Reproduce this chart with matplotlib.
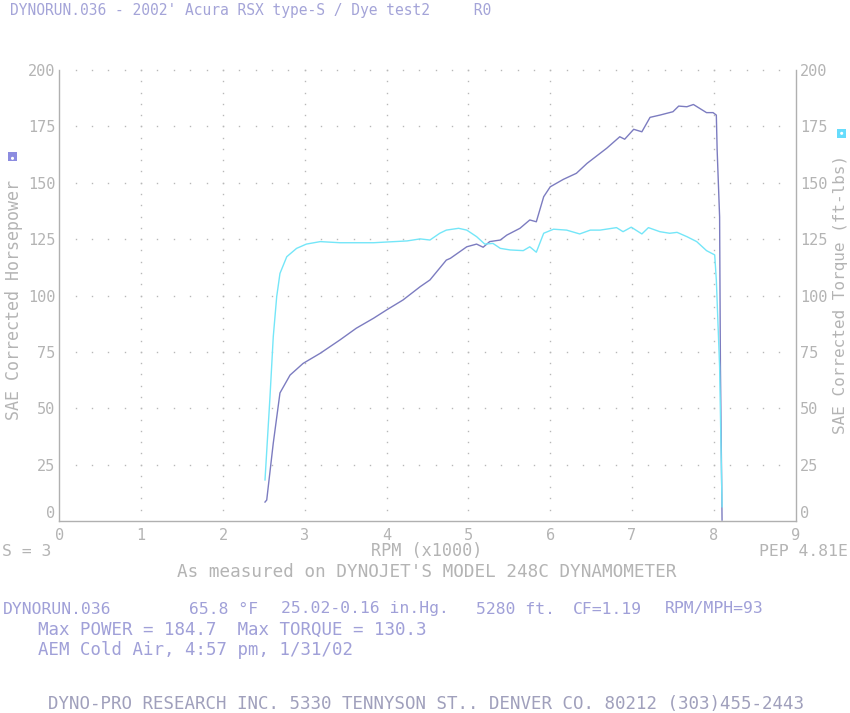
import numpy as np
import matplotlib
matplotlib.use("Agg")
import matplotlib.pyplot as plt
from matplotlib.patches import Rectangle

# ---- data ----
power_rpm = [2.514, 2.535, 2.615, 2.697, 2.82, 2.98, 3.19, 3.43, 3.63, 3.84, 4.00, 4.20, 4.41, 4.53,
             4.73, 4.78, 4.98, 5.10, 5.18, 5.26, 5.39, 5.47, 5.63, 5.75, 5.83, 5.92, 6.00, 6.16,
             6.32, 6.45, 6.69, 6.85, 6.91, 7.02, 7.12, 7.22, 7.34, 7.50, 7.57, 7.67, 7.75, 7.91,
             7.99, 8.03, 8.04, 8.07, 8.08, 8.10]
power_hp = [8.4, 9.3, 34.5, 56.8, 64.7, 69.9, 74.4, 80.3, 85.5, 89.9, 93.6, 98.0, 103.9, 106.9,
            115.7, 116.5, 121.6, 122.8, 121.4, 123.9, 124.6, 126.8, 129.8, 133.5, 132.7, 143.8, 148.2, 151.5,
            154.2, 158.6, 165.3, 170.4, 169.3, 173.7, 172.6, 179.0, 180.0, 181.5, 184.0, 183.7, 184.7, 181.1,
            181.1, 180.0, 164.5, 134.9, 68.4, 0.4]

torque_rpm = [2.514, 2.575, 2.615, 2.657, 2.697, 2.78, 2.90, 3.02, 3.19, 3.43, 3.84, 4.25, 4.41, 4.53,
              4.65, 4.73, 4.88, 4.98, 5.10, 5.20, 5.30, 5.39, 5.51, 5.67, 5.75, 5.83, 5.92, 6.04,
              6.20, 6.36, 6.49, 6.61, 6.81, 6.89, 6.99, 7.12, 7.20, 7.34, 7.46, 7.55, 7.67, 7.79,
              7.91, 8.01, 8.03, 8.07, 8.10]
torque_ftlb = [18.2, 55.1, 81.7, 99.5, 109.8, 117.2, 120.9, 122.8, 123.9, 123.4, 123.4, 124.2, 125.1, 124.6,
               127.6, 129.0, 129.8, 129.0, 126.1, 122.8, 123.1, 120.9, 120.2, 119.9, 121.6, 119.2, 127.6, 129.4,
               129.0, 127.3, 129.0, 129.0, 130.1, 128.3, 130.3, 127.3, 130.1, 128.3, 127.6, 128.0, 126.1, 123.9,
               119.9, 118.0, 106.9, 68.4, 6.3]

x_ticks = [0, 1, 2, 3, 4, 5, 6, 7, 8, 9]
y_ticks = [0, 25, 50, 75, 100, 125, 150, 175, 200]

title = "DYNORUN.036 - 2002' Acura RSX type-S / Dye test2     R0"

W, H = 850, 713
fig = plt.figure(figsize=(W / 100, H / 100), dpi=100)
fig.patch.set_facecolor("white")

def fx(px):
    return px / W

def fy(py):
    return 1 - py / H

x0, x1, y0, y1 = 59.3, 795.7, 521, 70
ax = fig.add_axes([fx(x0), fy(y0), (x1 - x0) / W, (y0 - y1) / H])
ax.set_xlim(0, 9)
ax.set_ylim(0, 200)

MONO = "DejaVu Sans Mono"
AXC = "#b0b0b0"
TICKC = "#b4b4b4"
BLUET = "#a0a0d8"

ax.spines["top"].set_visible(False)
for s in ["left", "right", "bottom"]:
    ax.spines[s].set_color(AXC)
    ax.spines[s].set_linewidth(1.0)

# dotted grid
gx = np.arange(0.2, 9.0, 0.2)
for yv in y_ticks[1:]:
    ax.plot(gx, np.full_like(gx, yv), linestyle="none", marker="s", markersize=1.0,
            color="#b8b8b8", markeredgewidth=0, clip_on=False)
gy = np.arange(5, 201, 5)
for xv in x_ticks[1:-1]:
    ax.plot(np.full_like(gy, xv, dtype=float), gy, linestyle="none", marker="s", markersize=1.0,
            color="#b8b8b8", markeredgewidth=0, clip_on=False)

ax.plot(power_rpm, power_hp, color="#7c7cc0", linewidth=1.0, clip_on=False)
ax.plot(torque_rpm, torque_ftlb, color="#74e6f8", linewidth=1.0, clip_on=False)

ax.set_xticks(x_ticks)
ax.set_xticklabels([str(v) for v in x_ticks], fontfamily=MONO, fontsize=11, color=TICKC)
ax.set_yticks(y_ticks)
ax.set_yticklabels([str(v) for v in y_ticks], fontfamily=MONO, fontsize=11, color=TICKC)
ax.tick_params(axis="x", length=0, pad=5)
ax.tick_params(axis="y", length=0, pad=3, labelright=True, right=False)
t0 = ax.yaxis.get_major_ticks()[0]
t0.label1.set_verticalalignment("bottom")
t0.label2.set_verticalalignment("bottom")

# texts
fig.text(fx(10), fy(10), title, fontfamily=MONO, fontsize=10.5, color="#a4a4d8", va="center", ha="left")

fig.text(fx(14), fy(300), "SAE Corrected Horsepower", fontfamily=MONO, fontsize=12.0, color=TICKC,
         rotation=90, va="center", ha="center")
fig.text(fx(841), fy(294), "SAE Corrected Torque (ft-lbs)", fontfamily=MONO, fontsize=11.5, color=TICKC,
         rotation=90, va="center", ha="center")

fig.patches.append(Rectangle((fx(8), fy(161)), 9 / W, 9 / H, transform=fig.transFigure,
                             facecolor="#8c8ce0", edgecolor="white", hatch="..", linewidth=0))
fig.patches.append(Rectangle((fx(837), fy(138)), 9 / W, 9 / H, transform=fig.transFigure,
                             facecolor="#66dcfc", edgecolor="white", hatch="..", linewidth=0))

fig.text(fx(2), fy(551), "S = 3", fontfamily=MONO, fontsize=11.8, color=TICKC, va="center", ha="left")
fig.text(fx(427), fy(551), "RPM (x1000)", fontfamily=MONO, fontsize=12.1, color=TICKC, va="center", ha="center")
fig.text(fx(848), fy(551), "PEP 4.81E", fontfamily=MONO, fontsize=11.8, color=TICKC, va="center", ha="right")
fig.text(fx(427), fy(572), "As measured on DYNOJET'S MODEL 248C DYNAMOMETER", fontfamily=MONO,
         fontsize=12.7, color=TICKC, va="center", ha="center")

line1 = [(57, "DYNORUN.036"), (224, "65.8 \u00b0F"), (365, "25.02-0.16 in.Hg."),
         (516, "5280 ft."), (607, "CF=1.19"), (714, "RPM/MPH=93")]
for px, s in line1:
    fig.text(fx(px), fy(609), s, fontfamily=MONO, fontsize=11.8, color=BLUET, va="center", ha="center")
fig.text(fx(38), fy(630), "Max POWER = 184.7  Max TORQUE = 130.3", fontfamily=MONO, fontsize=12.6,
         color=BLUET, va="center", ha="left")
fig.text(fx(38), fy(650), "AEM Cold Air, 4:57 pm, 1/31/02", fontfamily=MONO, fontsize=12.5,
         color=BLUET, va="center", ha="left")
fig.text(fx(426), fy(704), "DYNO-PRO RESEARCH INC. 5330 TENNYSON ST.. DENVER CO. 80212 (303)455-2443",
         fontfamily=MONO, fontsize=12.6, color="#a0a0bc", va="center", ha="center")

fig.savefig("out.png", dpi=100, facecolor="white")
